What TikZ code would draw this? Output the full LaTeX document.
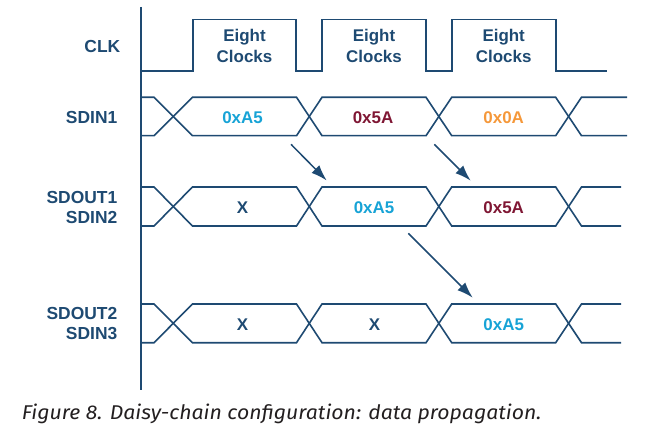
\documentclass[tikz,border=0pt]{standalone}
\usepackage{fontspec}
\setsansfont{Liberation Sans}
\newfontfamily\capfont{Fira Sans}[FakeStretch=1.065]
\usetikzlibrary{arrows.meta}
\definecolor{adinavy}{HTML}{1E4A72}
\definecolor{adicyan}{HTML}{17A3D6}
\definecolor{adimaroon}{HTML}{7F1734}
\definecolor{adiorange}{HTML}{F5983A}
\definecolor{captext}{HTML}{231F20}

\begin{document}
\begin{tikzpicture}[
  x=1bp, y=-1bp,
  wave/.style={draw=adinavy, line width=1.6bp, line join=miter},
  sig/.style={anchor=base east, inner sep=0pt, align=right, text=adinavy,
    font=\sffamily\bfseries\fontsize{17.5}{20.3}\selectfont},
  val/.style={anchor=base, inner sep=0pt, align=center,
    font=\sffamily\bfseries\fontsize{17}{21}\selectfont},
  flow/.style={draw=adinavy, line width=1.5bp, -{Latex[length=16bp,width=11bp]}}
]
\useasboundingbox (0,0) rectangle (649,435);

% Time axis
\coordinate (axtop) at (141,7);
\coordinate (axbot) at (141,390);
\draw[wave] (axtop) -- (axbot);

% Clock
\draw[wave] (141,71) -- (192.7,71) -- (192.7,19.5) -- (296,19.5) -- (296,71)
  -- (321.7,71) -- (321.7,19.5) -- (426,19.5) -- (426,71)
  -- (451.7,71) -- (451.7,19.5) -- (555.7,19.5) -- (555.7,71) -- (607,71);

% Data buses (top, bottom, right end)
\foreach \t/\b/\e in {97.3/135.7/627, 187/226/621, 304/342.7/621} {
  \draw[wave] (141,\t) -- (154,\t) -- (192.5,\b) -- (296.5,\b) -- (322,\t) -- (426,\t)
    -- (451.7,\b) -- (555.7,\b) -- (581.5,\t) -- (\e,\t);
  \draw[wave] (141,\b) -- (154,\b) -- (192.5,\t) -- (296.5,\t) -- (322,\b) -- (426,\b)
    -- (451.7,\t) -- (555.7,\t) -- (581.5,\b) -- (\e,\b);
}

% Signal names (base = last line)
\node[sig] (clk) at (120.5,52.3) {CLK};
\node[sig] (sdin1) at (117.5,123.3) {SDIN1};
\node[sig] (sdout1) at (117.5,223.7) {SDOUT1\\SDIN2};
\node[sig] (sdout2) at (117.5,339.3) {SDOUT2\\SDIN3};

% Clock labels
\node[val, text=adinavy] (clk1) at (244.5,62.7) {Eight\\Clocks};
\node[val, text=adinavy] (clk2) at (374,62.7) {Eight\\Clocks};
\node[val, text=adinavy] (clk3) at (503.7,62.7) {Eight\\Clocks};

% Data values
\node[val, text=adicyan] (d11) at (242.5,123.3) {0xA5};
\node[val, text=adimaroon] (d12) at (373,123.3) {0x5A};
\node[val, text=adiorange] (d13) at (503.7,123.3) {0x0A};
\node[val, text=adinavy] (d21) at (242.5,213.3) {X};
\node[val, text=adicyan] (d22) at (374,213.3) {0xA5};
\node[val, text=adimaroon] (d23) at (503.7,213.3) {0x5A};
\node[val, text=adinavy] (d31) at (242.5,330) {X};
\node[val, text=adinavy] (d32) at (374.5,330) {X};
\node[val, text=adicyan] (d33) at (503.7,330) {0xA5};

% Propagation arrows
\coordinate (p1s) at (291,144.3);
\coordinate (p1e) at (326.7,180.5);
\coordinate (p2s) at (434.3,144.3);
\coordinate (p2e) at (470.7,180.7);
\coordinate (p3s) at (408.3,233.3);
\coordinate (p3e) at (472.7,297.7);
\draw[flow] (p1s) -- (p1e);
\draw[flow] (p2s) -- (p2e);
\draw[flow] (p3s) -- (p3e);

% Caption
\node[anchor=base west, inner sep=0pt, text=captext,
  font=\capfont\itshape\fontsize{20}{24}\selectfont] (caption) at (21.7,419.3)
  {Figure 8. Daisy-chain configuration: data propagation.};
\end{tikzpicture}
\end{document}
